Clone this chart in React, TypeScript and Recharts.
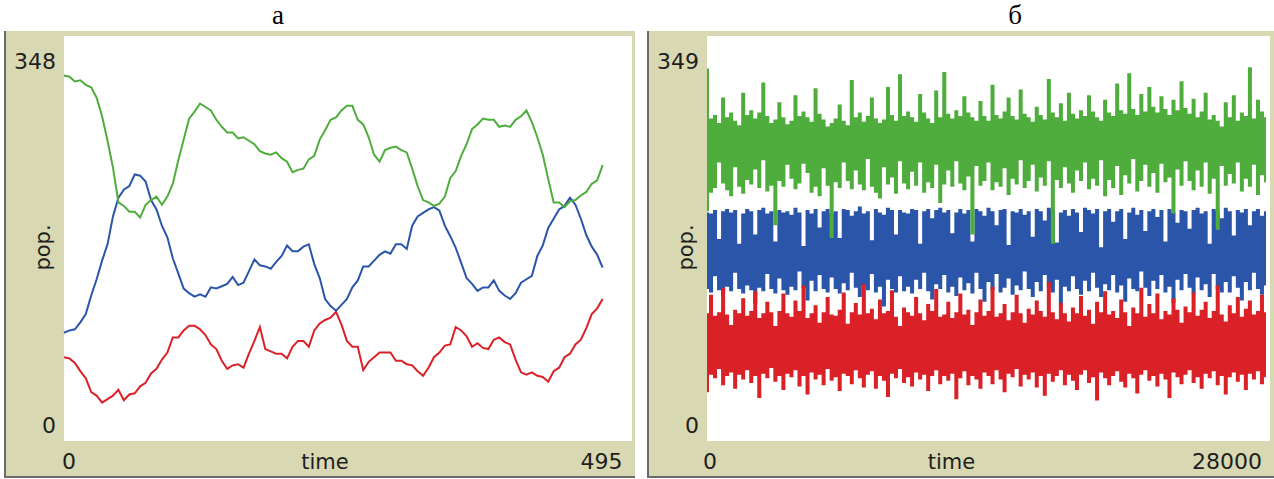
import React from 'react'
import { Area, AreaChart, CartesianGrid, Label, Line, LineChart, XAxis, YAxis } from 'recharts'

/* NetLogo-style plot chrome */
const FRAME = '#d8d8b2'
const EDGE = '#6b6b6b'
const INK = '#1e1e1e'
const GREEN = '#4ead3c'
const BLUE = '#2a55a8'
const RED = '#da2128'
const FONT = 'DejaVu Sans, Verdana, sans-serif'

/* ---- panel а: 0..495 ticks, sampled every 5 ticks ---- */
const TIME_STEP_A = 5
const GREEN_A = [
  314, 313, 309, 310, 306, 304, 295, 279, 258, 235,
  205, 202, 197, 197, 192, 203, 207, 210, 203, 210,
  221, 241, 259, 277, 283, 290, 287, 284, 276, 270,
  265, 265, 260, 261, 258, 255, 249, 247, 246, 248,
  243, 240, 231, 233, 234, 242, 245, 259, 267, 276,
  278, 284, 288, 288, 276, 272, 261, 246, 240, 250,
  252, 253, 250, 248, 234, 219, 207, 205, 202, 204,
  210, 226, 232, 245, 255, 268, 272, 277, 276, 276,
  270, 271, 270, 276, 279, 284, 274, 261, 246, 225,
  205, 205, 201, 206, 207, 211, 214, 221, 224, 237,
]
const BLUE_A = [
  93, 95, 96, 102, 109, 125, 139, 155, 169, 193,
  209, 216, 219, 229, 228, 223, 207, 199, 185, 175,
  157, 144, 131, 127, 124, 126, 124, 132, 131, 133,
  135, 141, 134, 136, 146, 156, 151, 150, 148, 154,
  159, 168, 163, 163, 167, 169, 152, 140, 122, 116,
  112, 117, 122, 132, 138, 150, 150, 155, 160, 163,
  161, 169, 169, 165, 185, 193, 196, 199, 201, 198,
  185, 176, 166, 153, 140, 135, 129, 132, 132, 138,
  129, 125, 122, 127, 136, 139, 142, 159, 168, 183,
  191, 199, 202, 209, 203, 191, 177, 167, 160, 149,
]
const RED_A = [
  72, 71, 67, 60, 54, 42, 39, 33, 36, 39,
  44, 35, 40, 41, 47, 50, 58, 62, 70, 76,
  89, 89, 95, 99, 99, 96, 91, 83, 79, 69,
  62, 65, 66, 63, 75, 86, 98, 79, 77, 75,
  75, 71, 81, 86, 86, 81, 95, 101, 104, 106,
  111, 100, 86, 81, 81, 61, 68, 72, 76, 76,
  76, 69, 69, 66, 65, 60, 56, 63, 72, 76,
  82, 83, 98, 95, 90, 81, 84, 80, 79, 87,
  89, 85, 83, 70, 59, 57, 59, 56, 55, 51,
  60, 63, 72, 75, 83, 87, 97, 109, 114, 122,
]
const X_TICKS_A = [0, 495]
const Y_TICKS_A = [0, 348]

/* ---- panel б: 0..28000 ticks, min/max envelope per 200-tick bin ---- */
const BIN_B = 200
const GREEN_B_HI = [
  321, 278, 281, 274, 296, 279, 283, 276, 272, 300,
  281, 285, 278, 283, 309, 280, 274, 277, 292, 279,
  273, 276, 298, 280, 284, 279, 275, 304, 282, 277,
  271, 274, 278, 290, 276, 272, 311, 279, 283, 275,
  280, 296, 278, 274, 277, 305, 281, 276, 316, 280,
  284, 279, 275, 299, 283, 278, 274, 302, 279, 318,
  282, 278, 285, 280, 297, 283, 279, 276, 293, 280,
  276, 307, 281, 278, 284, 296, 280, 277, 303, 282,
  279, 275, 288, 281, 277, 312, 283, 279, 291, 276,
  300, 282, 278, 285, 280, 298, 284, 279, 276, 294,
  283, 280, 308, 285, 282, 317, 286, 281, 299, 284,
  305, 288, 283, 297, 286, 281, 294, 285, 310, 287,
  282, 295, 279, 284, 300, 277, 281, 276, 271, 292,
  279, 298, 276, 283, 280, 322, 278, 294, 284, 279,
]
const GREEN_B_LO = [
  198, 214, 218, 240, 222, 216, 211, 236, 219, 213,
  225, 221, 234, 218, 242, 215, 220, 186, 224, 219,
  238, 226, 217, 222, 239, 231, 214, 219, 211, 235,
  220, 175, 223, 218, 240, 224, 217, 233, 221, 216,
  243, 219, 214, 209, 236, 221, 227, 213, 241, 222,
  217, 232, 220, 240, 214, 223, 218, 238, 205, 221,
  233, 219, 241, 222, 216, 228, 178, 237, 220, 224,
  240, 216, 223, 219, 235, 212, 226, 221, 242, 218,
  224, 238, 215, 227, 220, 241, 170, 225, 218, 236,
  222, 214, 233, 224, 240, 217, 226, 220, 242, 211,
  225, 218, 237, 212, 229, 222, 243, 215, 224, 238,
  219, 231, 214, 239, 223, 227, 196, 234, 220, 241,
  224, 216, 233, 219, 240, 213, 226, 182, 237, 220,
  230, 222, 240, 215, 226, 219, 238, 212, 229, 223,
]
const BLUE_B_HI = [
  197, 196, 199, 174, 198, 200, 197, 199, 170, 196,
  200, 198, 178, 199, 201, 196, 198, 172, 199, 197,
  198, 195, 201, 197, 168, 199, 196, 200, 184, 198,
  200, 196, 198, 175, 200, 199, 194, 198, 202, 196,
  198, 173, 200, 197, 195, 201, 199, 178, 199, 197,
  196, 200, 199, 170, 198, 200, 192, 199, 201, 197,
  199, 179, 197, 200, 196, 199, 172, 200, 198, 194,
  201, 198, 186, 199, 200, 169, 198, 197, 200, 195,
  198, 176, 200, 198, 190, 201, 199, 171, 197, 199,
  194, 200, 197, 180, 201, 199, 196, 200, 167, 198,
  200, 189, 198, 200, 174, 197, 201, 195, 199, 181,
  198, 200, 193, 199, 172, 200, 197, 188, 199, 198,
  183, 199, 201, 196, 198, 170, 200, 198, 192, 201,
  198, 177, 199, 197, 200, 186, 198, 200, 194, 198,
]
const BLUE_B_LO = [
  131, 128, 142, 130, 126, 133, 129, 145, 131, 127,
  134, 130, 118, 132, 129, 144, 131, 127, 140, 130,
  126, 133, 130, 146, 132, 121, 138, 129, 143, 131,
  128, 141, 131, 127, 136, 130, 145, 132, 124, 134,
  130, 144, 128, 133, 116, 139, 131, 128, 142, 129,
  133, 127, 139, 131, 145, 129, 122, 135, 131, 143,
  128, 133, 125, 141, 130, 136, 127, 145, 131, 120,
  137, 130, 144, 128, 132, 140, 126, 134, 130, 146,
  131, 124, 137, 129, 143, 132, 128, 139, 117, 133,
  129, 142, 131, 126, 138, 129, 145, 132, 124, 135,
  130, 143, 128, 134, 120, 140, 131, 129, 146, 132,
  125, 138, 131, 143, 128, 133, 119, 139, 130, 144,
  132, 127, 141, 130, 135, 124, 144, 131, 128, 137,
  128, 142, 132, 121, 137, 130, 145, 131, 126, 134,
]
const RED_B_HI = [
  110, 126, 108, 111, 132, 109, 100, 113, 110, 123,
  108, 112, 129, 106, 110, 120, 111, 99, 112, 127,
  110, 107, 121, 112, 134, 106, 110, 117, 102, 111,
  124, 109, 108, 113, 128, 101, 111, 119, 109, 135,
  110, 114, 105, 122, 110, 112, 130, 107, 99, 115,
  111, 108, 124, 110, 104, 118, 112, 131, 107, 109,
  120, 106, 111, 127, 109, 113, 100, 111, 122, 108,
  112, 133, 107, 110, 118, 104, 111, 126, 110, 102,
  114, 109, 121, 112, 107, 137, 111, 105, 119, 110,
  103, 115, 110, 125, 108, 113, 101, 120, 111, 129,
  109, 112, 106, 122, 111, 99, 115, 110, 132, 107,
  118, 110, 127, 105, 112, 109, 123, 113, 102, 116,
  111, 128, 108, 113, 120, 106, 112, 134, 109, 103,
  117, 110, 124, 107, 114, 121, 109, 112, 126, 111,
]
const RED_B_LO = [
  42, 57, 54, 62, 48, 56, 59, 45, 57, 53,
  61, 50, 56, 37, 58, 54, 63, 51, 56, 44,
  58, 55, 61, 47, 56, 40, 59, 53, 57, 48,
  62, 52, 55, 43, 58, 56, 49, 61, 54, 46,
  57, 60, 45, 56, 52, 38, 58, 54, 62, 50,
  55, 47, 59, 53, 57, 43, 56, 61, 49, 56,
  52, 58, 36, 54, 60, 48, 56, 53, 45, 59,
  56, 49, 61, 53, 42, 58, 55, 62, 47, 57,
  53, 59, 46, 56, 39, 58, 51, 56, 61, 48,
  57, 52, 44, 57, 61, 50, 55, 35, 59, 54,
  48, 56, 60, 51, 46, 58, 54, 41, 57, 61,
  52, 56, 47, 58, 53, 37, 59, 55, 49, 57,
  61, 50, 55, 45, 58, 54, 60, 48, 56, 40,
  55, 59, 51, 57, 44, 58, 53, 60, 49, 55,
]
const X_TICKS_B = [0, 28000]
const Y_TICKS_B = [0, 349]

const dataA = GREEN_A.map((g, i) => ({
  t: i * TIME_STEP_A,
  green: g,
  blue: BLUE_A[i],
  red: RED_A[i],
}))

const dataB = GREEN_B_HI.map((_, i) => ({
  t: i * BIN_B,
  green: [GREEN_B_LO[i], GREEN_B_HI[i]],
  blue: [BLUE_B_LO[i], BLUE_B_HI[i]],
  red: [RED_B_LO[i], RED_B_HI[i]],
}))

const CHART_H = 445
const PLOT_H = 405
const AXIS_W = 58

/* min/max labels sit in the plot corners, as NetLogo draws them */
const yTick = (max: number) => (props: any) => {
  const { x, y, payload } = props
  const top = payload.value === max
  return (
    <text x={x} y={y + (top ? 33 : -8)} textAnchor="end" fill={INK} fontSize={22} fontFamily={FONT}>
      {payload.value}
    </text>
  )
}

const xTick = (firstDx: number, lastDx: number) => (props: any) => {
  const { x, y, payload, index } = props
  const first = index === 0
  return (
    <text
      x={x + (first ? firstDx : lastDx)}
      y={y + 20}
      textAnchor={first ? 'start' : 'end'}
      fill={INK}
      fontSize={22}
      fontFamily={FONT}
    >
      {payload.value}
    </text>
  )
}

const popLabel = (props: any) => {
  const vb = props.viewBox
  const cx = vb.x + vb.width - 21
  const cy = vb.y + vb.height / 2 + 9
  return (
    <text
      x={cx}
      y={cy}
      transform={`rotate(-90 ${cx} ${cy})`}
      textAnchor="middle"
      dominantBaseline="central"
      fill={INK}
      fontSize={21}
      fontFamily={FONT}
    >
      pop.
    </text>
  )
}

const timeLabel = (dx: number) => (props: any) => {
  const vb = props.viewBox
  return (
    <text
      x={vb.x + vb.width / 2 + dx}
      y={vb.y + 21}
      textAnchor="middle"
      dominantBaseline="central"
      fill={INK}
      fontSize={21}
      fontFamily={FONT}
    >
      time
    </text>
  )
}

function Frame({ left, width, children }: { left: number; width: number; children: React.ReactNode }) {
  return (
    <div
      style={{
        position: 'absolute',
        left,
        top: 31,
        width,
        height: 447,
        boxSizing: 'border-box',
        borderLeft: `2px solid ${EDGE}`,
        borderBottom: `2px solid ${EDGE}`,
        background: FRAME,
      }}
    >
      {children}
    </div>
  )
}

function Title({ center, text }: { center: number; text: string }) {
  return (
    <div
      style={{
        position: 'absolute',
        left: center - 50,
        top: 2,
        width: 100,
        textAlign: 'center',
        fontFamily: 'Liberation Serif, Times New Roman, serif',
        fontSize: 27,
        lineHeight: '27px',
        color: '#000',
      }}
    >
      {text}
    </div>
  )
}

function PanelA() {
  return (
    <LineChart width={629} height={CHART_H} data={dataA} margin={{ top: 5, right: 3, bottom: 0, left: 0 }}>
      <CartesianGrid fill="#ffffff" stroke="none" horizontal={false} vertical={false} />
      <XAxis
        dataKey="t"
        type="number"
        domain={[0, 522]}
        ticks={X_TICKS_A}
        interval={0}
        axisLine={false}
        tickLine={false}
        height={CHART_H - PLOT_H - 5}
        tick={xTick(-2, 20)}
      >
        <Label content={timeLabel(-23)} />
      </XAxis>
      <YAxis
        type="number"
        domain={[0, 348]}
        ticks={Y_TICKS_A}
        interval={0}
        axisLine={false}
        tickLine={false}
        width={AXIS_W}
        tick={yTick(348)}
      >
        <Label content={popLabel} />
      </YAxis>
      <Line type="linear" dataKey="red" stroke={RED} strokeWidth={2} dot={false} isAnimationActive={false} />
      <Line type="linear" dataKey="blue" stroke={BLUE} strokeWidth={2} dot={false} isAnimationActive={false} />
      <Line type="linear" dataKey="green" stroke={GREEN} strokeWidth={2} dot={false} isAnimationActive={false} />
    </LineChart>
  )
}

function PanelB() {
  return (
    <AreaChart width={625} height={CHART_H} data={dataB} margin={{ top: 5, right: 4, bottom: 0, left: 0 }}>
      <CartesianGrid fill="#ffffff" stroke="none" horizontal={false} vertical={false} />
      <XAxis
        dataKey="t"
        type="number"
        domain={[0, 28000]}
        ticks={X_TICKS_B}
        interval={0}
        axisLine={false}
        tickLine={false}
        height={CHART_H - PLOT_H - 5}
        tick={xTick(-4, -8)}
      >
        <Label content={timeLabel(-37)} />
      </XAxis>
      <YAxis
        type="number"
        domain={[0, 349]}
        ticks={Y_TICKS_B}
        interval={0}
        axisLine={false}
        tickLine={false}
        width={AXIS_W}
        tick={yTick(349)}
      >
        <Label content={popLabel} />
      </YAxis>
      <Area type="step" dataKey="blue" stroke="none" fill={BLUE} fillOpacity={1} dot={false} activeDot={false} isAnimationActive={false} />
      <Area type="step" dataKey="red" stroke="none" fill={RED} fillOpacity={1} dot={false} activeDot={false} isAnimationActive={false} />
      <Area type="step" dataKey="green" stroke="none" fill={GREEN} fillOpacity={1} dot={false} activeDot={false} isAnimationActive={false} />
    </AreaChart>
  )
}

export default function App() {
  return (
    <div
      style={{
        position: 'absolute',
        left: 0,
        top: 0,
        width: 1274,
        height: 479,
        background: '#ffffff',
        overflow: 'hidden',
      }}
    >
      <Title center={278} text="а" />
      <Title center={1015} text="б" />
      <Frame left={4} width={631}>
        <PanelA />
      </Frame>
      <Frame left={647} width={627}>
        <PanelB />
      </Frame>
    </div>
  )
}
